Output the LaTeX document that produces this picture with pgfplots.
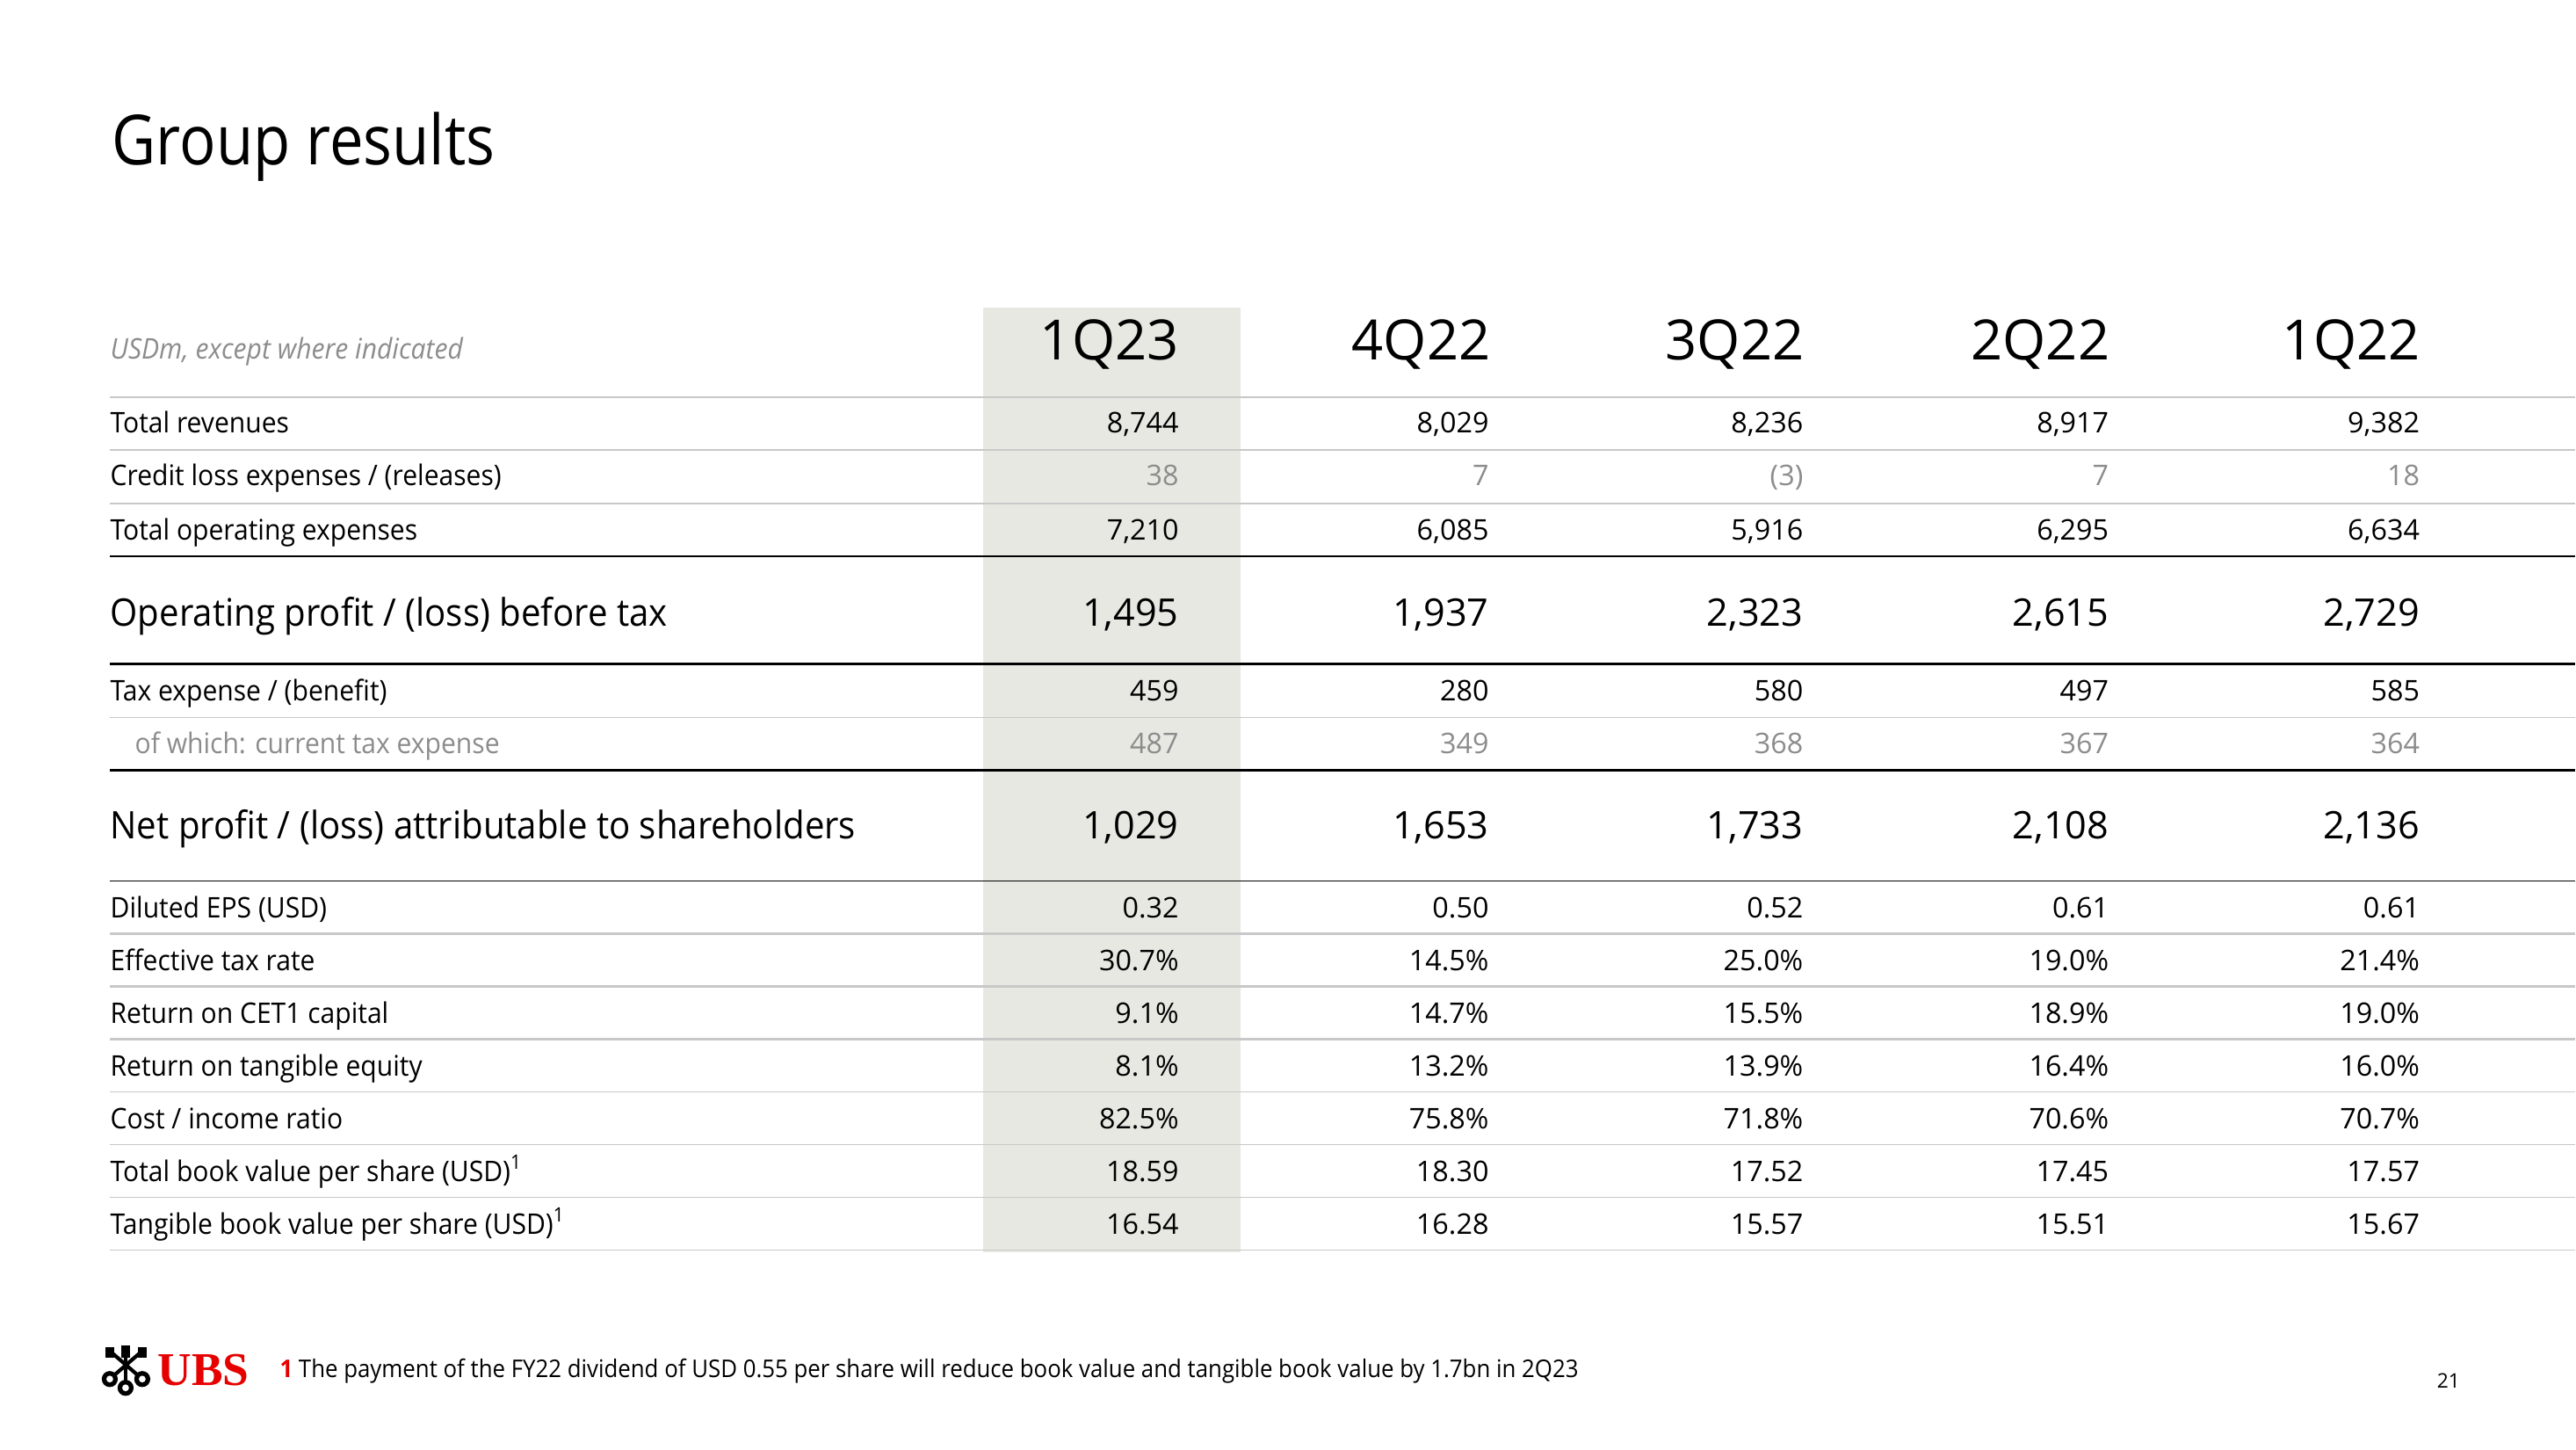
\documentclass[border=0pt]{standalone}
\usepackage{fontspec}
\setmainfont{Open Sans}[FakeStretch=0.93]
\newfontfamily\numfont{Open Sans}
\newfontfamily\titlefont{Open Sans}[FakeStretch=0.875]
\newfontfamily\ubsfont{Liberation Serif}
\usepackage{pgfplots}
\pgfplotsset{compat=1.18}
\definecolor{shadecol}{RGB}{232,232,227}
\definecolor{linegray}{RGB}{200,200,200}
\definecolor{txtgray}{RGB}{140,140,140}
\definecolor{ubsred}{RGB}{230,0,0}
\newcommand\fs[1]{\fontsize{#1}{#1}\selectfont}
\pgfplotsset{
  cell/.style={only marks, mark=none, nodes near coords, point meta=explicit,
    every node near coord/.append style={anchor=base east, inner sep=0pt, text=black, font=\numfont\fs{9.2}}},
  big/.style={every node near coord/.append style={font=\numfont\fs{12.3}}},
  grayt/.style={every node near coord/.append style={text=txtgray}},
  fint/.style={nodes near coords={\pgfmathprintnumber[assume math mode=true, fixed, precision=0, 1000 sep={,}]{\pgfplotspointmeta}}},
  fdec/.style={nodes near coords={\pgfmathprintnumber[assume math mode=true, fixed, fixed zerofill, precision=2]{\pgfplotspointmeta}}},
  fpct/.style={nodes near coords={\pgfmathprintnumber[assume math mode=true, fixed, fixed zerofill, precision=1]{\pgfplotspointmeta}\%}},
}
\newcommand{\datarow}[7]{\addplot[cell,#1] coordinates {(1343,#2)[#3] (1696,#2)[#4] (2054,#2)[#5] (2402,#2)[#6] (2756,#2)[#7]};}
\begin{document}
\begin{tikzpicture}
\begin{axis}[width=29.32cm, height=16.5cm, scale only axis,
  xmin=0, xmax=2932, ymin=0, ymax=1650, y dir=reverse,
  hide axis, clip=false]
\fill[white] (axis cs:0,0) rectangle (axis cs:2932,1650);
% shaded current column
\fill[shadecol] (axis cs:1120,350) rectangle (axis cs:1413,1426);
% rules
\draw[linegray, line width=0.45pt] (axis cs:125,452) -- (axis cs:2932,452);
\draw[linegray, line width=0.45pt] (axis cs:125,512) -- (axis cs:2932,512);
\draw[linegray, line width=0.45pt] (axis cs:125,573) -- (axis cs:2932,573);
\draw[linegray, line width=0.45pt] (axis cs:125,817) -- (axis cs:2932,817);
\draw[linegray, line width=0.75pt] (axis cs:125,1063) -- (axis cs:2932,1063);
\draw[linegray, line width=0.75pt] (axis cs:125,1123) -- (axis cs:2932,1123);
\draw[linegray, line width=0.75pt] (axis cs:125,1183) -- (axis cs:2932,1183);
\draw[linegray, line width=0.45pt] (axis cs:125,1243) -- (axis cs:2932,1243);
\draw[linegray, line width=0.45pt] (axis cs:125,1303) -- (axis cs:2932,1303);
\draw[linegray, line width=0.45pt] (axis cs:125,1363) -- (axis cs:2932,1363);
\draw[linegray, line width=0.45pt] (axis cs:125,1423) -- (axis cs:2932,1423);
\draw[black, line width=0.5pt] (axis cs:125,633) -- (axis cs:2932,633);
\draw[black, line width=0.8pt] (axis cs:125,756) -- (axis cs:2932,756);
\draw[black, line width=0.75pt] (axis cs:125,877) -- (axis cs:2932,877);
\draw[black, line width=0.5pt] (axis cs:125,1003) -- (axis cs:2932,1003);
% title
\node[anchor=base west, inner sep=0pt, font=\titlefont\fs{22.4}] at (axis cs:127,188) {Group results};
% header
\node[anchor=base west, inner sep=0pt, font=\fs{9.2}\itshape, text=txtgray] at (axis cs:125,409) {USDm, except where indicated};
\node[anchor=base east, inner sep=0pt, font=\numfont\fs{18}] at (axis cs:1343,410) {1Q23};
\node[anchor=base east, inner sep=0pt, font=\numfont\fs{18}] at (axis cs:1698,410) {4Q22};
\node[anchor=base east, inner sep=0pt, font=\numfont\fs{18}] at (axis cs:2055,410) {3Q22};
\node[anchor=base east, inner sep=0pt, font=\numfont\fs{18}] at (axis cs:2403,410) {2Q22};
\node[anchor=base east, inner sep=0pt, font=\numfont\fs{18}] at (axis cs:2757,410) {1Q22};
% row labels
\begin{scope}[every node/.style={anchor=base west, inner sep=0pt, font=\fs{9.2}}]
\node at (axis cs:125,493) {Total revenues};
\node at (axis cs:125,553) {Credit loss expenses / (releases)};
\node at (axis cs:125,615) {Total operating expenses};
\node[font=\fs{12.3}] at (axis cs:125,713) {Operating profit / (loss) before tax};
\node at (axis cs:125,798) {Tax expense / (benefit)};
\node[text=txtgray] at (axis cs:153,858) {of which: current tax expense};
\node[font=\fs{12.3}] at (axis cs:125,955) {Net profit / (loss) attributable to shareholders};
\node at (axis cs:125,1045) {Diluted EPS (USD)};
\node at (axis cs:125,1105) {Effective tax rate};
\node at (axis cs:125,1165) {Return on CET1 capital};
\node at (axis cs:125,1225) {Return on tangible equity};
\node at (axis cs:125,1285) {Cost / income ratio};
\node at (axis cs:125,1345) {Total book value per share (USD)\textsuperscript{1}};
\node at (axis cs:125,1405) {Tangible book value per share (USD)\textsuperscript{1}};
\end{scope}
% data
\datarow{fint}{493}{8744}{8029}{8236}{8917}{9382}
\addplot[cell, grayt, point meta=explicit symbolic] table[meta=m] {
x y m
1343 553 38
1696 553 7
2054 553 (3)
2402 553 7
2756 553 18
};
\datarow{fint}{615}{7210}{6085}{5916}{6295}{6634}
\datarow{fint,big}{713}{1495}{1937}{2323}{2615}{2729}
\datarow{fint}{798}{459}{280}{580}{497}{585}
\datarow{fint,grayt}{858}{487}{349}{368}{367}{364}
\datarow{fint,big}{955}{1029}{1653}{1733}{2108}{2136}
\datarow{fdec}{1045}{0.32}{0.50}{0.52}{0.61}{0.61}
\datarow{fpct}{1105}{30.7}{14.5}{25.0}{19.0}{21.4}
\datarow{fpct}{1165}{9.1}{14.7}{15.5}{18.9}{19.0}
\datarow{fpct}{1225}{8.1}{13.2}{13.9}{16.4}{16.0}
\datarow{fpct}{1285}{82.5}{75.8}{71.8}{70.6}{70.7}
\datarow{fdec}{1345}{18.59}{18.30}{17.52}{17.45}{17.57}
\datarow{fdec}{1405}{16.54}{16.28}{15.57}{15.51}{15.67}
% footer: logo
\draw[line width=1.2pt, line cap=round] (axis cs:125,1570) -- (axis cs:162,1538);
\draw[line width=1.2pt, line cap=round] (axis cs:162,1570) -- (axis cs:125,1538);
\draw[line width=1.2pt, line cap=round] (axis cs:143,1578) -- (axis cs:143,1534);
\fill (axis cs:125,1570) circle[radius=2.6pt];
\fill (axis cs:162,1570) circle[radius=2.6pt];
\fill (axis cs:143,1580) circle[radius=2.6pt];
\fill[white] (axis cs:125,1570) circle[radius=1.1pt];
\fill[white] (axis cs:162,1570) circle[radius=1.1pt];
\fill[white] (axis cs:143,1580) circle[radius=1.1pt];
\fill (axis cs:138,1532) rectangle (axis cs:148,1546);
\fill (axis cs:120,1534) rectangle (axis cs:130,1546);
\fill (axis cs:157,1534) rectangle (axis cs:167,1546);
\node[anchor=base west, inner sep=0pt, font=\ubsfont\bfseries\fs{15.2}, text=ubsred] at (axis cs:179,1577) {UBS};
\node[anchor=base west, inner sep=0pt, font=\fs{7.9}] at (axis cs:318,1568) {\textcolor{ubsred}{\textbf{1}} The payment of the FY22 dividend of USD 0.55 per share will reduce book value and tangible book value by 1.7bn in 2Q23};
\node[anchor=base east, inner sep=0pt, font=\numfont\fs{6.5}] at (axis cs:2802,1580) {21};
\end{axis}
\end{tikzpicture}
\end{document}
